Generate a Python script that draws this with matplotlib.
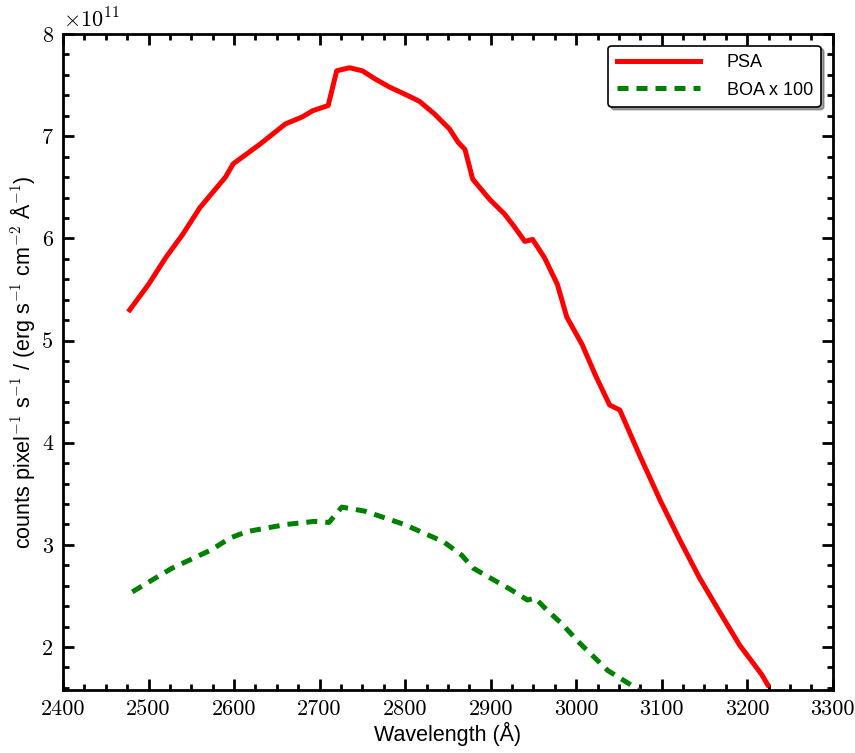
import numpy as np
import matplotlib
matplotlib.use("Agg")
import matplotlib.pyplot as plt
from matplotlib.ticker import MultipleLocator, FuncFormatter

plt.rcParams['mathtext.fontset'] = 'cm'
plt.rcParams['font.family'] = ['Liberation Sans', 'DejaVu Sans']

# PSA spectrum (counts pixel^-1 s^-1 per erg s^-1 cm^-2 A^-1)
psa_wave = [2478, 2500, 2520, 2540, 2560, 2580, 2590, 2599, 2630, 2660, 2680,
            2692, 2710, 2720, 2735, 2750, 2765, 2782, 2805, 2817, 2834, 2852,
            2862, 2870, 2879, 2899, 2916, 2928, 2940, 2949, 2963, 2978, 2989,
            3007, 3022, 3039, 3051, 3074, 3098, 3121, 3144, 3168, 3191, 3217, 3224]
psa_val = [5.30, 5.55, 5.81, 6.04, 6.30, 6.50, 6.60, 6.73, 6.92, 7.12, 7.19,
           7.25, 7.30, 7.64, 7.67, 7.64, 7.56, 7.48, 7.39, 7.34, 7.22, 7.07,
           6.94, 6.87, 6.58, 6.38, 6.24, 6.11, 5.97, 5.99, 5.81, 5.55, 5.23,
           4.96, 4.67, 4.37, 4.32, 3.88, 3.44, 3.05, 2.68, 2.34, 2.02, 1.73, 1.63]

# BOA spectrum scaled by 100
boa_wave = [2481, 2527, 2573, 2596, 2615, 2661, 2694, 2711, 2726, 2753, 2799,
            2845, 2866, 2880, 2903, 2924, 2943, 2952, 2966, 2983, 3004, 3037,
            3062, 3080]
boa_val = [2.54, 2.77, 2.95, 3.07, 3.13, 3.20, 3.23, 3.22, 3.37, 3.33, 3.20,
           3.03, 2.90, 2.77, 2.66, 2.56, 2.46, 2.48, 2.36, 2.23, 2.04, 1.77,
           1.64, 1.54]

psa = np.array(psa_val) * 1e11
boa = np.array(boa_val) * 1e11

fig = plt.figure(figsize=(8.55, 7.53), dpi=100)
ax = fig.add_axes([0.0737, 0.0837, 0.9003, 0.8711])

ax.plot(psa_wave, psa, color='red', lw=3.6, label='PSA')
ax.plot(boa_wave, boa, color='green', lw=3.6, ls=(0, (2.2, 1.6)), label='BOA x 100')

ax.set_xlim(2400, 3300)
ax.set_ylim(1.58e11, 8e11)

ax.xaxis.set_major_locator(MultipleLocator(100))
ax.xaxis.set_minor_locator(MultipleLocator(25))
ax.yaxis.set_major_locator(MultipleLocator(1e11))
ax.yaxis.set_minor_locator(MultipleLocator(0.2e11))
ax.xaxis.set_major_formatter(FuncFormatter(lambda v, p: '%d' % v))
ax.yaxis.set_major_formatter(FuncFormatter(lambda v, p: '%d' % round(v / 1e11)))

ax.tick_params(which='both', direction='in', top=True, right=True, width=2,
               labelsize=16, pad=7, labelfontfamily='cmr10')
ax.tick_params(which='major', length=8)
ax.tick_params(which='minor', length=4)
for s in ax.spines.values():
    s.set_linewidth(2)

ax.text(0.0, 1.003, r'$\times\mathrm{10}^{\mathrm{11}}$', transform=ax.transAxes,
        fontsize=16, ha='left', va='bottom')

ax.set_xlabel('Wavelength (Å)', fontsize=15.5, labelpad=2)
ax.set_ylabel(r'counts pixel$^{\mathsf{-1}}$ s$^{\mathsf{-1}}$ / (erg s$^{\mathsf{-1}}$ cm$^{\mathsf{-2}}$ Å$^{\mathsf{-1}}$)',
              fontsize=15.5, labelpad=4)

leg = ax.legend(loc='upper right', fontsize=13, shadow=True, fancybox=True,
                handlelength=4.6, borderpad=0.45, labelspacing=0.6,
                handletextpad=1.5, borderaxespad=0.65)
leg.get_frame().set_edgecolor('black')
leg.get_frame().set_linewidth(1.2)
leg.get_frame().set_alpha(1)

fig.savefig('out.png', dpi=100)
